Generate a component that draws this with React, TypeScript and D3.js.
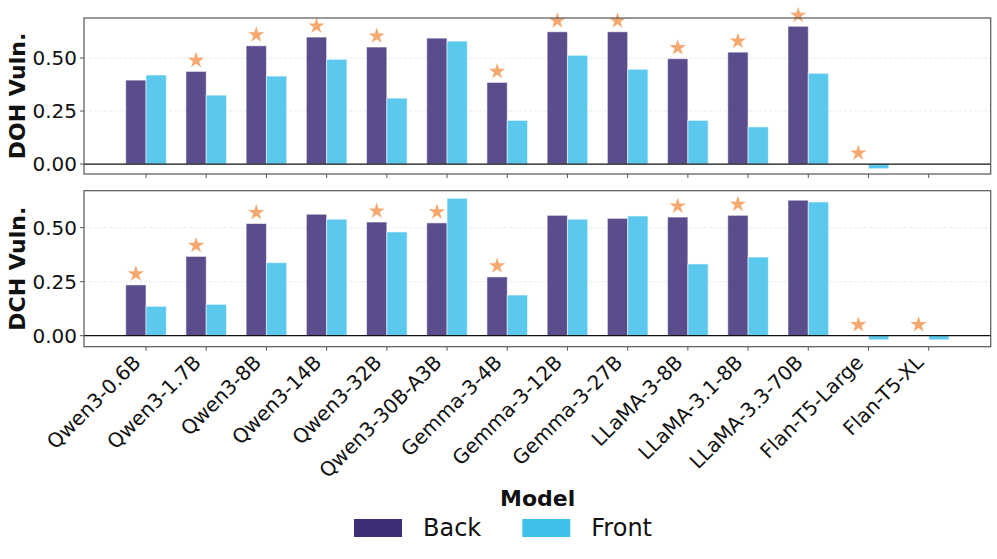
import * as d3 from "d3";
import React from "react";

const models = [
    "Qwen3-0.6B", "Qwen3-1.7B", "Qwen3-8B", "Qwen3-14B", "Qwen3-32B", "Qwen3-30B-A3B",
    "Gemma-3-4B", "Gemma-3-12B", "Gemma-3-27B", "LLaMA-3-8B", "LLaMA-3.1-8B", "LLaMA-3.3-70B",
    "Flan-T5-Large", "Flan-T5-XL",
];

// DOH panel
const dohBack = [0.396, 0.437, 0.558, 0.599, 0.552, 0.594, 0.385, 0.624, 0.624, 0.497, 0.528, 0.650, 0, null];
const dohFront = [0.420, 0.325, 0.415, 0.494, 0.311, 0.580, 0.206, 0.513, 0.447, 0.206, 0.175, 0.428, -0.022, null];
const dohStar = [false, true, true, true, true, false, true, true, true, true, true, true, true, false];

// DCH panel
const dchBack = [0.235, 0.367, 0.519, 0.562, 0.526, 0.522, 0.272, 0.557, 0.543, 0.549, 0.557, 0.627, 0, 0];
const dchFront = [0.136, 0.145, 0.338, 0.539, 0.480, 0.636, 0.188, 0.539, 0.554, 0.332, 0.364, 0.619, -0.019, -0.019];
const dchStar = [true, true, true, false, true, true, true, false, false, true, true, false, true, true];

const yTicks = [0, 0.25, 0.5];
const seriesNames = ["Back", "Front"];
const seriesColors = ["#3e2d78", "#3ec0eb"];

const W = 997, H = 559;
const left = 84, right = 990.7;
const font = "DejaVu Sans, sans-serif";

interface PanelProps {
    top: number;
    bottom: number;
    domain: [number, number];
    back: Array<number | null>;
    front: Array<number | null>;
    stars: boolean[];
    label: string;
    showLabels: boolean;
}

const x = d3.scalePoint<string>().domain(models).range([left, right]).padding(1.03);
const barW = x.step() * 0.337;
const starPath = d3.symbol().type(d3.symbolStar).size(82)() || "";

function Panel(props: PanelProps) {
    const { top, bottom, domain, back, front, stars, label, showLabels } = props;
    const y = d3.scaleLinear().domain(domain).range([bottom, top]);
    const series = [back, front];
    return (
        <g>
            {/* grid */}
            {yTicks.filter(t => t !== 0).map(t => (
                <line key={"g" + t} x1={left} x2={right} y1={y(t)} y2={y(t)}
                      stroke="#e6e6e6" strokeWidth={0.8} strokeDasharray="3,2" />
            ))}
            {/* bars */}
            {series.map((vals, si) => vals.map((v, i) => {
                if (v === null || v === 0) return null;
                const cx = x(models[i])!;
                const bx = si === 0 ? cx - barW : cx;
                return (
                    <rect key={si + "-" + i} x={bx} width={barW}
                          y={y(Math.max(0, v))} height={Math.abs(y(v) - y(0))}
                          fill={seriesColors[si]} fillOpacity={0.85}
                          stroke="#ffffff" strokeOpacity={0.55} strokeWidth={1} />
                );
            }))}
            {/* stars */}
            {stars.map((s, i) => {
                if (!s) return null;
                const v = back[i] ?? 0;
                const sx = x(models[i])! - barW / 2;
                const sy = y(Math.max(0, v)) - 11;
                return <path key={"s" + i} d={starPath} transform={`translate(${sx},${sy})`}
                             fill="#f4a468" fillOpacity={0.95} />;
            })}
            {/* zero line */}
            <line x1={left} x2={right} y1={y(0)} y2={y(0)} stroke="#111" strokeWidth={1.3} />
            {/* frame */}
            <rect x={left} y={top} width={right - left} height={bottom - top}
                  fill="none" stroke="#555" strokeWidth={1.2} />
            {/* y ticks */}
            {yTicks.map(t => (
                <g key={"y" + t}>
                    <line x1={left - 4} x2={left} y1={y(t)} y2={y(t)} stroke="#555" strokeWidth={1} />
                    <text x={left - 7} y={y(t)} dy="0.36em" textAnchor="end"
                          fontSize={20} fontFamily={font} fill="#111">{t.toFixed(2)}</text>
                </g>
            ))}
            {/* x ticks */}
            {models.map(m => (
                <g key={"x" + m}>
                    <line x1={x(m)} x2={x(m)} y1={bottom} y2={bottom + 4} stroke="#555" strokeWidth={1} />
                    {showLabels && (
                        <text transform={`translate(${x(m)! - 4},${bottom + 17}) rotate(-45)`}
                              textAnchor="end" fontSize={20} fontFamily={font} fill="#111">{m}</text>
                    )}
                </g>
            ))}
            <text transform={`translate(25,${(top + bottom) / 2}) rotate(-90)`} textAnchor="middle"
                  fontSize={22} fontWeight="bold" fontFamily={font} fill="#111">{label}</text>
        </g>
    );
}

export default function App() {
    return (
        <svg width={W} height={H} style={{ position: "absolute", left: 0, top: 0, background: "#fff" }}>
            <Panel top={18} bottom={174} domain={[-0.047, 0.689]} back={dohBack} front={dohFront}
                   stars={dohStar} label="DOH Vuln." showLabels={false} />
            <Panel top={190.7} bottom={346.7} domain={[-0.051, 0.671]} back={dchBack} front={dchFront}
                   stars={dchStar} label="DCH Vuln." showLabels={true} />
            {/* legend */}
            <text x={537.7} y={506} textAnchor="middle" fontSize={22} fontWeight="bold"
                  fontFamily={font} fill="#111">Model</text>
            {seriesNames.map((n, i) => {
                const lx = 354 + i * 168.3;
                return (
                    <g key={n}>
                        <rect x={lx} y={519} width={48} height={18} fill={seriesColors[i]} />
                        <text x={lx + 69} y={536} fontSize={24} fontFamily={font} fill="#111">{n}</text>
                    </g>
                );
            })}
        </svg>
    );
}
